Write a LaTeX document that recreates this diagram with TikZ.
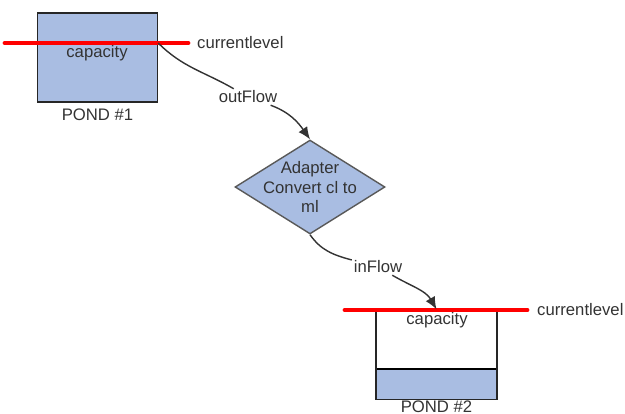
\documentclass[tikz,border=0pt]{standalone}
\usepackage{fontspec}
\setmainfont{Liberation Sans}
\usetikzlibrary{positioning,shapes.geometric,arrows.meta}
\definecolor{pondblue}{HTML}{A9BDE2}
\definecolor{labelgray}{HTML}{333333}

\begin{document}
\begin{tikzpicture}[x=0.02cm, y=-0.02cm,
    font=\fontsize{9.5}{11.3}\selectfont, text=labelgray,
    pond/.style={draw=black!85, line width=0.8pt, minimum width=2.4cm, minimum height=1.78cm, inner sep=0pt},
    level/.style={red, line width=2.8pt, line cap=round},
    flow/.style={draw=black!80, line width=0.8pt},
    tip/.style={-{Latex[length=7pt,width=6pt]}},
    adapterbox/.style={diamond, draw=black!65, line width=0.8pt, fill=pondblue, minimum width=3cm, minimum height=1.88cm, inner sep=0pt, aspect=1.6}]
    % Frame
    \useasboundingbox (0,0) rectangle (625,413);

    % Pond 1
    \node[pond, fill=pondblue] (pond1) at (97.5,57.5) {};
    \node (cap1) at (97,53) {capacity};
    \node[below=0pt of pond1] (name1) {POND \#1};
    \node[anchor=west] (lvl1) at (191,43) {currentlevel};
    \draw[level] (5,43) -- (188,43);

    % Adapter
    \node[adapterbox] (adapter) at (310,187) {};
    \node[align=center] (adaptertext) at (adapter) {Adapter\\Convert cl to\\ml};

    % Pond 2
    \node[pond] (pond2) at (436.5,354.5) {};
    \fill[pondblue] (pond2.south west) rectangle (pond2.east |- 0,369);
    \draw[line width=0.8pt] (pond2.west |- 0,369) -- (pond2.east |- 0,369);
    \draw[draw=black!85, line width=0.8pt] (pond2.south west) rectangle (pond2.north east);
    \node (cap2) at (437,320) {capacity};
    \node[below=0.5pt of pond2, inner sep=0pt] (name2) {POND \#2};
    \node[anchor=west] (lvl2) at (531,310) {currentlevel};
    \draw[level] (345,310) -- (527,310);

    % Flows
    \node[fill=white, inner sep=1pt] (outflow) at (248,97) {outFlow};
    \draw[flow] (pond1.east |- lvl1) to[out=-45, in=150] (outflow);
    \draw[flow, tip] (outflow) to[out=-20, in=125] (adapter.north);

    \node[fill=white, inner sep=1pt] (inflow) at (378,267) {inFlow};
    \draw[flow] (adapter.south) to[out=-55, in=165] (inflow);
    \draw[flow, tip] (inflow) to[out=-30, in=120] (pond2.north);
\end{tikzpicture}
\end{document}
